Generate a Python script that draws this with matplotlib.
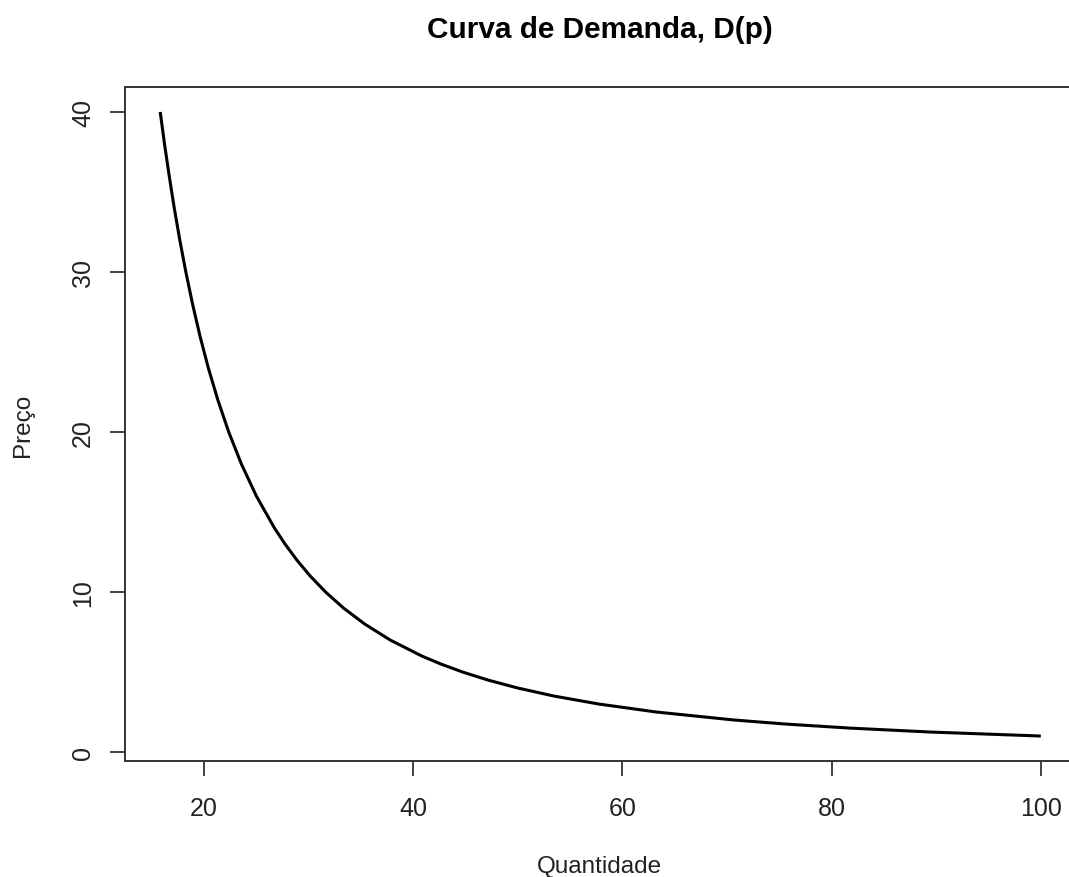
import matplotlib
matplotlib.use("Agg")
import matplotlib.pyplot as plt

# Values
quantidade = [15.81, 16.22, 16.67, 17.15, 17.68, 18.26, 18.90, 19.61, 20.41, 21.32,
              22.36, 23.57, 25.00, 26.73, 27.74, 28.87, 30.15, 31.62, 33.33, 35.36,
              37.80, 40.82, 42.64, 44.72, 47.14, 50.00, 53.45, 57.74, 63.25, 70.71,
              75.59, 81.65, 89.44, 100.0]
preco = [40.0, 38.0, 36.0, 34.0, 32.0, 30.0, 28.0, 26.0, 24.0, 22.0,
         20.0, 18.0, 16.0, 14.0, 13.0, 12.0, 11.0, 10.0, 9.0, 8.0,
         7.0, 6.0, 5.5, 5.0, 4.5, 4.0, 3.5, 3.0, 2.5, 2.0,
         1.75, 1.5, 1.25, 1.0]
x_ticks = [20, 40, 60, 80, 100]
y_ticks = [0, 10, 20, 30, 40]

plt.rcParams['font.family'] = ['Liberation Sans', 'DejaVu Sans']

W, H = 1069, 878
fig = plt.figure(figsize=(W / 100, H / 100), dpi=100)
ax = fig.add_axes([125 / W, 116 / H, (1076 - 125) / W, (762 - 88) / H])

ax.plot(quantidade, preco, color='black', linewidth=2.2,
        solid_joinstyle='round', solid_capstyle='butt')

xr = max(quantidade) - min(quantidade)
yr = max(preco) - min(preco)
ax.set_xlim(min(quantidade) - 0.04 * xr, max(quantidade) + 0.04 * xr)
ax.set_ylim(min(preco) - 0.04 * yr, max(preco) + 0.04 * yr)

ax.set_xticks(x_ticks)
ax.set_yticks(y_ticks)
ax.set_xticklabels([str(v) for v in x_ticks], fontsize=18, color='#222222')
ax.set_yticklabels([str(v) for v in y_ticks], fontsize=18, color='#222222',
                   rotation=90, va='center')
ax.tick_params(axis='both', direction='out', length=10.5, width=1.3,
               color='#333333')
ax.tick_params(axis='x', pad=15)
ax.tick_params(axis='y', pad=11)
for s in ax.spines.values():
    s.set_linewidth(1.4)
    s.set_color('#333333')

fig.text(600 / W, 1 - 30 / H, 'Curva de Demanda, D(p)', ha='center', va='center',
         fontsize=21.4, fontweight='bold', color='black')
fig.text(599 / W, 11 / H, 'Quantidade', ha='center', va='center',
         fontsize=17.5, color='#222222')
fig.text(23 / W, 1 - 425 / H, 'Preço', ha='center', va='center', rotation=90,
         fontsize=17.5, color='#222222')

fig.savefig('out.png', dpi=100)
